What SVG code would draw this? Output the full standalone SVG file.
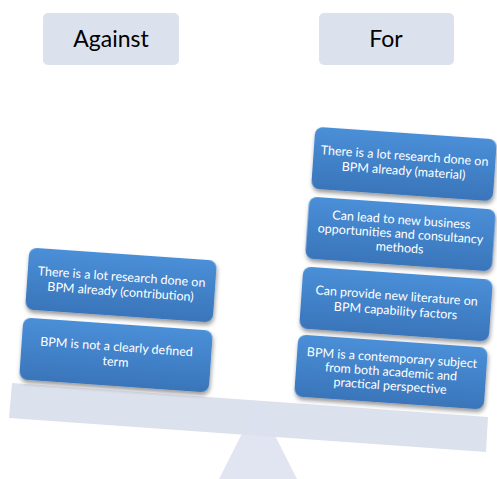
<svg xmlns="http://www.w3.org/2000/svg" width="497" height="479" viewBox="0 0 497 479">
  <style>
    .head { fill: #dce1ee; }
    .head-text { font-family: Lato, "Liberation Sans", sans-serif; font-size: 23px; fill: #000; text-anchor: middle; }
    .card { fill: url(#cardFill); filter: url(#cardShadow); }
    .card-text { font-family: Lato, "Liberation Sans", sans-serif; font-size: 12.5px; fill: #fff; text-anchor: middle; }
    .scale { fill: #dce1ee; }
  </style>
  <defs>
    <linearGradient id="cardFill" x1="0" y1="0" x2="0" y2="1">
      <stop offset="0" stop-color="#4a8fd8"/>
      <stop offset="1" stop-color="#3a75ba"/>
    </linearGradient>
    <filter id="cardShadow" x="-10%" y="-20%" width="120%" height="150%">
      <feDropShadow dx="1" dy="3" stdDeviation="2" flood-color="#000" flood-opacity="0.4"/>
    </filter>
  </defs>

  <!-- column headings -->
  <g id="against">
    <rect class="head" x="43" y="13" width="136" height="52" rx="5"/>
    <text class="head-text" x="111" y="47">Against</text>
  </g>
  <g id="for">
    <rect class="head" x="319" y="13" width="135" height="52" rx="5"/>
    <text class="head-text" x="386" y="47">For</text>
  </g>

  <!-- balance beam and fulcrum -->
  <g id="balance">
    <polygon class="scale" points="12,383 488,417 486,452 9,418"/>
    <polygon class="scale" points="258,402 297,479 219,479" opacity="0.85"/>
  </g>

  <!-- arguments against -->
  <g id="against-contribution" transform="translate(121 285) rotate(4)">
    <rect class="card" x="-94" y="-31" width="188" height="62" rx="8"/>
    <text class="card-text" y="-4">There is a lot research done on</text>
    <text class="card-text" y="11">BPM already (contribution)</text>
  </g>
  <g id="against-definition" transform="translate(116 355) rotate(4)">
    <rect class="card" x="-95" y="-31" width="190" height="62" rx="8"/>
    <text class="card-text" y="-4">BPM is not a clearly defined</text>
    <text class="card-text" y="11">term</text>
  </g>

  <!-- arguments for -->
  <g id="for-material" transform="translate(404 164) rotate(4)">
    <rect class="card" x="-91" y="-31" width="182" height="62" rx="8"/>
    <text class="card-text" y="-4">There is a lot research done on</text>
    <text class="card-text" y="11">BPM already (material)</text>
  </g>
  <g id="for-business" transform="translate(400.5 234) rotate(4)">
    <rect class="card" x="-93.5" y="-31" width="187" height="62" rx="8"/>
    <text class="card-text" y="-10">Can lead to new business</text>
    <text class="card-text" y="4">opportunities and consultancy</text>
    <text class="card-text" y="18">methods</text>
  </g>
  <g id="for-literature" transform="translate(396 304) rotate(4)">
    <rect class="card" x="-95" y="-31" width="190" height="62" rx="8"/>
    <text class="card-text" y="-4">Can provide new literature on</text>
    <text class="card-text" y="11">BPM capability factors</text>
  </g>
  <g id="for-contemporary" transform="translate(391 372) rotate(4)">
    <rect class="card" x="-95" y="-31" width="190" height="62" rx="8"/>
    <text class="card-text" y="-10">BPM is a contemporary subject</text>
    <text class="card-text" y="4">from both academic and</text>
    <text class="card-text" y="18">practical perspective</text>
  </g>
</svg>
